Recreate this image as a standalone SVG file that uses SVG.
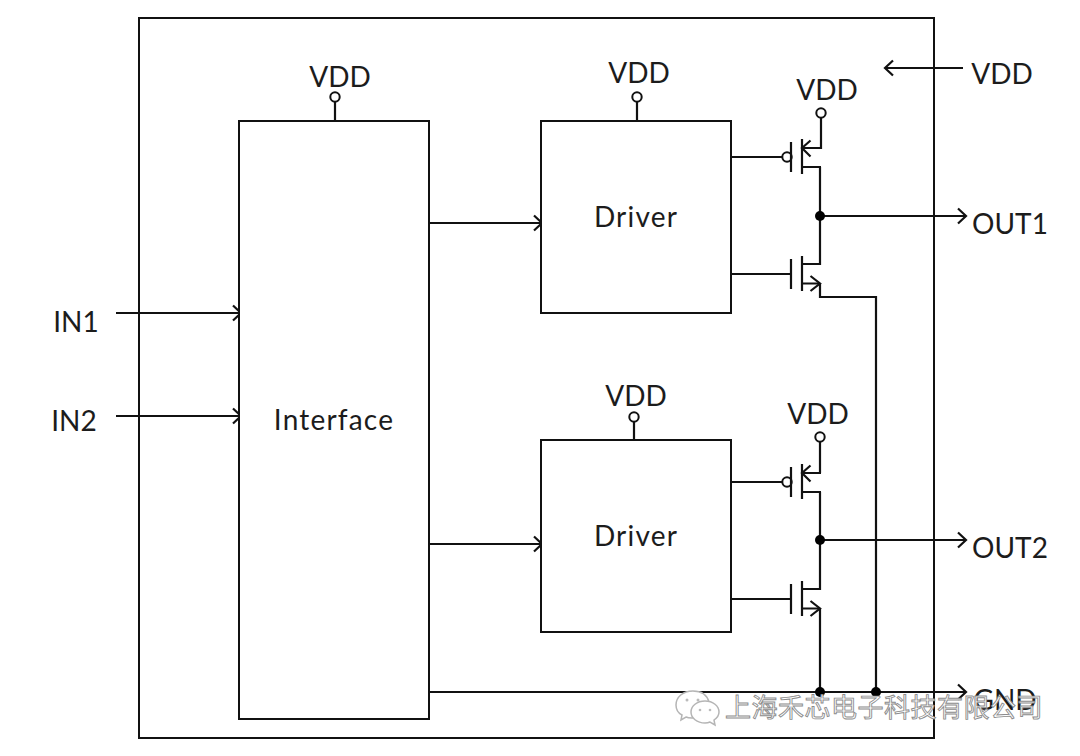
<svg xmlns="http://www.w3.org/2000/svg" width="1080" height="756" viewBox="0 0 1080 756">
<style>
  .box { fill: #fff; stroke: #111; stroke-width: 2; }
  .w { fill: none; stroke: #111; stroke-width: 2.2; }
  .ring { fill: #fff; stroke: #111; stroke-width: 2; }
  .dot { fill: #000; }
  .t { font-family: Lato, "Open Sans", sans-serif; font-size: 28px; fill: #1c1c1c; text-anchor: middle; }
  .wide { letter-spacing: 1.2px; }
  .mark { font-family: "Noto Sans CJK SC", sans-serif; font-size: 26px; fill: #fff; stroke: #8a8a8a; stroke-width: 0.9; letter-spacing: 0.5px; opacity: 0.98; }
  .bubble { fill: #fff; stroke: #b5b5b5; stroke-width: 1.5; }
</style>
<defs>
  <marker id="arrow" markerUnits="userSpaceOnUse" markerWidth="16" markerHeight="18" refX="12" refY="9" orient="auto">
    <path d="M4 1.500 L12 9 L4 16.500" fill="none" stroke="#111" stroke-width="2.2"/>
  </marker>
  <!-- P-channel device, origin at the gate-side drive point -->
  <g id="pmos">
    <path class="w" d="M0 0H51"/>
    <circle class="ring" cx="56" cy="0" r="4.700"/>
    <path class="w" d="M60 -15V15M71 -18V17M71 -9H90M71 10H90"/>
    <path class="w" d="M79.500 -16.500L71 -9L79.500 -0.500"/>
  </g>
  <!-- N-channel device -->
  <g id="nmos">
    <path class="w" d="M0 0H60M60 -15V15M71 -18V17M71 -10H90M71 9.500H89"/>
    <path class="w" d="M79.500 2L89 9.500L79.500 17"/>
  </g>
</defs>

<rect id="frame" class="box" x="139" y="18" width="795" height="720"/>

<g id="connectors">
  <path class="w" marker-end="url(#arrow)" d="M116 313H241"/>
  <path class="w" marker-end="url(#arrow)" d="M116 416H241"/>
  <path class="w" marker-end="url(#arrow)" d="M429 223H542"/>
  <path class="w" marker-end="url(#arrow)" d="M429 544H542"/>
  <path class="w" marker-end="url(#arrow)" d="M963 68H885"/>
  <path class="w" d="M335 102V121M637 102V121M634 421V440"/>
  <path class="w" marker-end="url(#arrow)" d="M820 216H966"/>
  <path class="w" marker-end="url(#arrow)" d="M820 540H966"/>
  <path class="w" marker-end="url(#arrow)" d="M429 692H966"/>
  <path class="w" d="M821 118V148H801M820 167V265M820 283V297H876V692"/>
  <path class="w" d="M820 442V473M820 492V590M820 608V692"/>
  <circle class="ring" cx="335" cy="97" r="4.700"/>
  <circle class="ring" cx="637" cy="97" r="4.700"/>
  <circle class="ring" cx="634" cy="417" r="4.700"/>
  <circle class="ring" cx="821" cy="113" r="4.700"/>
  <circle class="ring" cx="820" cy="437" r="4.700"/>
  <circle class="dot" cx="820" cy="216" r="5"/>
  <circle class="dot" cx="820" cy="540" r="5"/>
  <circle class="dot" cx="820" cy="692" r="5"/>
  <circle class="dot" cx="876" cy="692" r="5"/>
</g>

<g id="interface">
  <rect class="box" x="239" y="121" width="190" height="598"/>
  <text class="t wide" x="334" y="430">Interface</text>
</g>
<g id="driver-top">
  <rect class="box" x="541" y="121" width="190" height="192"/>
  <text class="t wide" x="636" y="227">Driver</text>
</g>
<g id="driver-bottom">
  <rect class="box" x="541" y="440" width="190" height="192"/>
  <text class="t wide" x="636" y="546">Driver</text>
</g>

<g id="pmos-top"><use href="#pmos" x="731" y="157"/></g>
<g id="nmos-top"><use href="#nmos" x="731" y="274"/></g>
<g id="pmos-bottom"><use href="#pmos" x="731" y="482"/></g>
<g id="nmos-bottom"><use href="#nmos" x="731" y="599"/></g>

<g id="labels">
  <text class="t" x="340" y="87">VDD</text>
  <text class="t" x="639" y="83">VDD</text>
  <text class="t" x="827" y="100">VDD</text>
  <text class="t" x="1002" y="84">VDD</text>
  <text class="t" x="636" y="406">VDD</text>
  <text class="t" x="818" y="424">VDD</text>
  <text class="t" x="76" y="332">IN1</text>
  <text class="t" x="74" y="431">IN2</text>
  <text class="t" x="1010" y="234">OUT1</text>
  <text class="t" x="1010" y="558">OUT2</text>
  <text class="t" x="1005" y="710">GND</text>
</g>

<g id="watermark">
  <path class="bubble" d="M693 691c-10 0-17 6-17 14c0 4 2 8 6 10l-1 5l5-3c2 1 4 1 6 1c6 0 4-2 4-6c0-7 7-10 13-10c-2-7-8-11-16-11z"/>
  <path class="bubble" d="M705 701c-8 0-14 5-14 11c0 6 6 11 14 11c2 0 3 0 5-1l5 3l-1-5c3-2 5-5 5-8c0-6-6-11-14-11z"/>
  <circle cx="687" cy="700" r="1.500" fill="#bbb"/>
  <circle cx="698" cy="700" r="1.500" fill="#bbb"/>
  <circle cx="700" cy="710" r="1.300" fill="#bbb"/>
  <circle cx="710" cy="710" r="1.300" fill="#bbb"/>
  <text class="mark" x="725" y="717">上海禾芯电子科技有限公司</text>
</g>
</svg>
